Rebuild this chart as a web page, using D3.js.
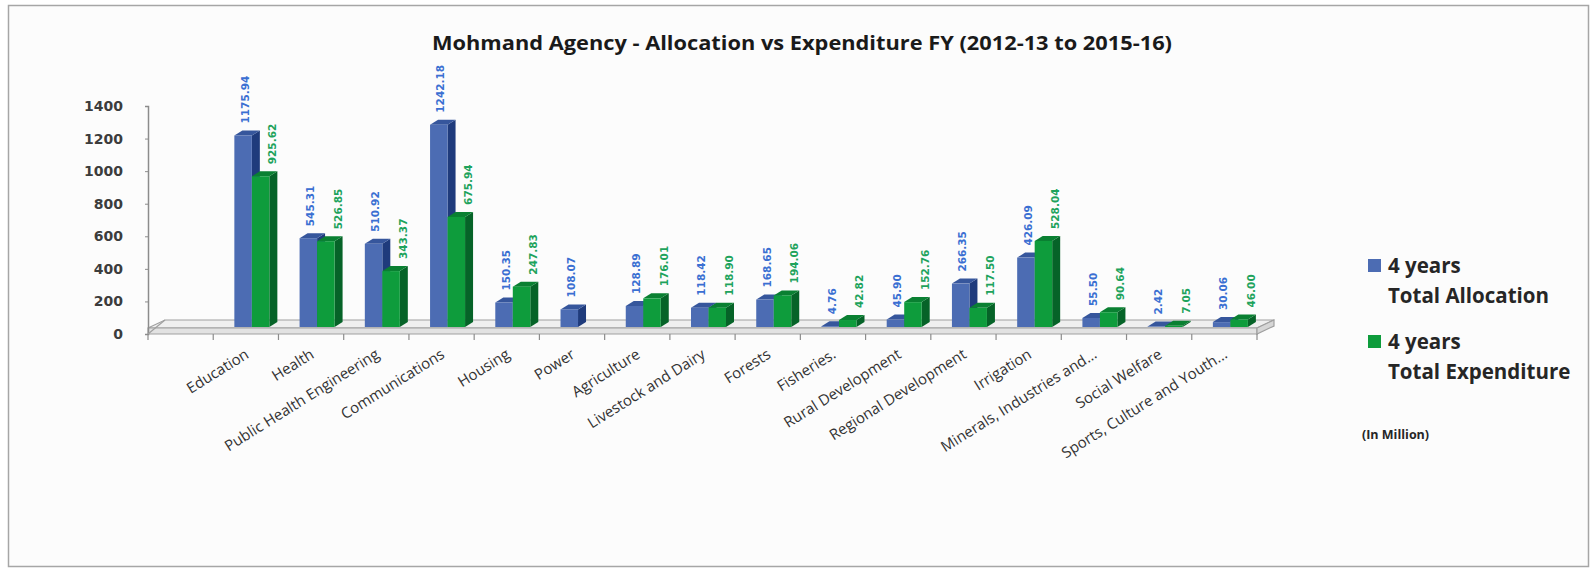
<!DOCTYPE html>
<html>
<head>
<meta charset="utf-8">
<script src="https://cdn.jsdelivr.net/npm/d3@7/dist/d3.min.js"></script>
<style>
  html, body { margin: 0; padding: 0; background: #ffffff; }
  svg { display: block; }
</style>
</head>
<body>
<svg id="chart" width="1593" height="573"></svg>
<script>
// Mohmand Agency sector budgets, 4-year totals (PKR million)
const categories = [
  "Education", "Health", "Public Health Engineering", "Communications",
  "Housing", "Power", "Agriculture", "Livestock and Dairy", "Forests",
  "Fisheries.", "Rural Development", "Regional Development", "Irrigation",
  "Minerals, Industries and...", "Social Welfare", "Sports, Culture and Youth..."
];
const allocation = [1175.94, 545.31, 510.92, 1242.18, 150.35, 108.07, 128.89, 118.42,
  168.65, 4.76, 45.90, 266.35, 426.09, 55.50, 2.42, 30.06];
const expenditure = [925.62, 526.85, 343.37, 675.94, 247.83, null, 176.01, 118.90,
  194.06, 42.82, 152.76, 117.50, 528.04, 90.64, 7.05, 46.00];
const yTicks = [0, 200, 400, 600, 800, 1000, 1200, 1400];
const seriesNames = [["4 years", "Total Allocation"], ["4 years", "Total Expenditure"]];

const svg = d3.select("#chart");

// chart area frame
svg.append("rect")
  .attr("x", 8.5).attr("y", 5.5).attr("width", 1580).attr("height", 561)
  .attr("fill", "#fcfcfc").attr("stroke", "#a6a6a6").attr("stroke-width", 1.5);

// title
svg.append("text")
  .attr("x", 802).attr("y", 50)
  .attr("text-anchor", "middle")
  .attr("font-family", "'Open Sans', sans-serif")
  .attr("font-weight", "bold").attr("font-size", 20)
  .attr("textLength", 740).attr("lengthAdjust", "spacingAndGlyphs")
  .attr("fill", "#1a1a1a")
  .text("Mohmand Agency - Allocation vs Expenditure FY (2012-13 to 2015-16)");

// scales: the first slot is left empty, as in the source layout
const x = d3.scaleBand().domain([""].concat(categories)).range([148, 1257]).paddingInner(0);
const y = d3.scaleLinear().domain([0, 1400]).range([334, 106]);

// 3-D geometry
const depth = { dx: 17, dy: -14 };     // floor depth
const barShift = { dx: 6, dy: -7 };    // bars sit mid-depth on the floor
const side = { dx: 8, dy: -5 };        // visible side/top of each column
const barW = 17.5;

// floor slab
const x0 = x.range()[0], x1 = x.range()[1];
const fy = y(0);
svg.append("polygon")
  .attr("points", [[x0, fy - 6], [x1, fy - 6], [x1 + depth.dx, fy + depth.dy], [x0 + depth.dx, fy + depth.dy]].map(p => p.join(",")).join(" "))
  .attr("fill", "#efefef").attr("stroke", "#a0a0a0").attr("stroke-width", 1.2);
svg.append("polygon")
  .attr("points", [[x0, fy - 6], [x1, fy - 6], [x1, fy], [x0, fy]].map(p => p.join(",")).join(" "))
  .attr("fill", "#e2e2e2").attr("stroke", "#a0a0a0").attr("stroke-width", 1.2);
svg.append("polygon")
  .attr("points", [[x1, fy - 6], [x1 + depth.dx, fy + depth.dy], [x1 + depth.dx, fy + depth.dy + 6], [x1, fy]].map(p => p.join(",")).join(" "))
  .attr("fill", "#d6d6d6").attr("stroke", "#a0a0a0").attr("stroke-width", 1.2);

// value axis
const yAxis = svg.append("g").attr("transform", `translate(${x0},0)`)
  .call(d3.axisLeft(y).tickValues(yTicks).tickSize(3).tickPadding(22).tickFormat(d3.format("d")));
yAxis.select(".domain").attr("stroke", "#8c8c8c").attr("stroke-width", 1.5);
yAxis.selectAll(".tick line").attr("stroke", "#8c8c8c");
yAxis.selectAll(".tick text")
  .attr("font-family", "'DejaVu Sans', sans-serif").attr("font-weight", "bold")
  .attr("font-size", 14).attr("fill", "#3c3c3c");
// diagonal floor edge from the axis foot
svg.append("line")
  .attr("x1", x0).attr("y1", fy).attr("x2", x0 + depth.dx).attr("y2", fy + depth.dy)
  .attr("stroke", "#a0a0a0").attr("stroke-width", 1.2);

// category axis ticks at slot boundaries
const bounds = x.domain().map(d => x(d)).concat([x1]);
svg.append("g").selectAll("line").data(bounds).join("line")
  .attr("x1", d => d).attr("x2", d => d)
  .attr("y1", fy).attr("y2", fy + 6)
  .attr("stroke", "#8c8c8c").attr("stroke-width", 1.2);

// category labels
svg.append("g").selectAll("text").data(categories).join("text")
  .attr("transform", d => `translate(${x(d) + x.bandwidth() / 2 + 4},${fy + 23}) rotate(-32)`)
  .attr("text-anchor", "end")
  .attr("font-family", "'Open Sans', sans-serif").attr("font-size", 15)
  .attr("fill", "#333333")
  .text(d => d);

// 3-D column
const palettes = [
  { front: "#4c6cb3", side: "#1f3b7c", top: "#36569c", label: "#3a6fd2" },
  { front: "#0e9c3c", side: "#066328", top: "#0a8032", label: "#1ea35c" }
];
function column(g, left, value, pal) {
  const base = y(0) + barShift.dy;
  const top = base - (y(0) - y(value));
  const l = left + barShift.dx, r = l + barW;
  g.append("polygon")
    .attr("points", [[r, top], [r + side.dx, top + side.dy], [r + side.dx, base + side.dy], [r, base]].map(p => p.join(",")).join(" "))
    .attr("fill", pal.side);
  g.append("polygon")
    .attr("points", [[l, top], [l + side.dx, top + side.dy], [r + side.dx, top + side.dy], [r, top]].map(p => p.join(",")).join(" "))
    .attr("fill", pal.top);
  g.append("rect")
    .attr("x", l).attr("y", top).attr("width", barW).attr("height", base - top)
    .attr("fill", pal.front);
  return { cx: l + barW / 2 + 2, top: top };
}

const bars = svg.append("g");
const labels = svg.append("g");
const fmt = d3.format(".2f");
categories.forEach((c, i) => {
  const start = x(c) + x.bandwidth() / 2 - barW;
  [allocation[i], expenditure[i]].forEach((v, s) => {
    if (v === null) return;
    const p = column(bars, start + s * barW, v, palettes[s]);
    const lx = p.cx + (s === 1 ? 10 : 0);
    labels.append("text")
      .attr("transform", `translate(${lx},${p.top - 12}) rotate(-90)`)
      .attr("dy", "0.35em")
      .attr("text-anchor", "start")
      .attr("font-family", "'DejaVu Sans', sans-serif").attr("font-weight", "bold")
      .attr("font-size", 10.5).attr("fill", palettes[s].label)
      .text(fmt(v));
  });
});

// legend
const legend = svg.append("g");
seriesNames.forEach((lines, s) => {
  const ly = 259 + s * 76;
  legend.append("rect").attr("x", 1368).attr("y", ly).attr("width", 13).attr("height", 13)
    .attr("fill", palettes[s].front);
  lines.forEach((t, k) => {
    legend.append("text")
      .attr("x", 1388).attr("y", ly + 14 + k * 30)
      .attr("font-family", "'Open Sans', sans-serif").attr("font-weight", "bold")
      .attr("font-size", 20.5).attr("fill", "#262626")
      .text(t);
  });
});
legend.append("text")
  .attr("x", 1362).attr("y", 439)
  .attr("font-family", "'Open Sans', sans-serif").attr("font-weight", "bold")
  .attr("font-size", 12.5).attr("fill", "#262626")
  .text("(In Million)");
</script>
</body>
</html>
